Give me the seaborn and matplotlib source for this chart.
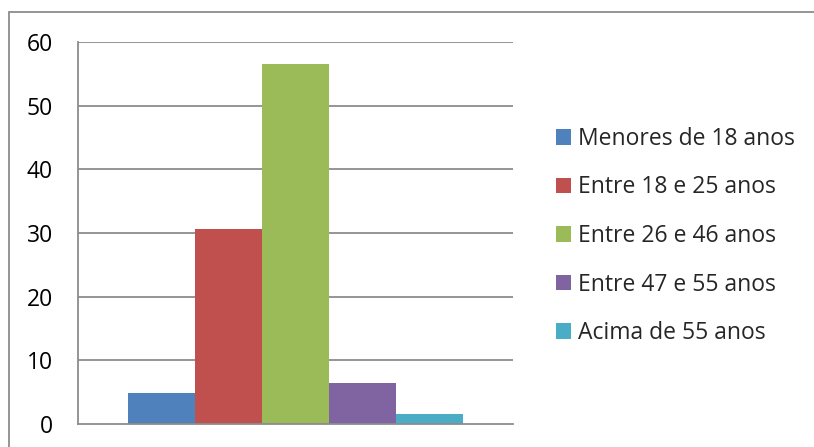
import matplotlib
matplotlib.use("Agg")
import matplotlib.pyplot as plt
from matplotlib.patches import Rectangle
import seaborn as sns
import pandas as pd

# Age groups and their shares
groups = ["Menores de 18 anos", "Entre 18 e 25 anos", "Entre 26 e 46 anos",
          "Entre 47 e 55 anos", "Acima de 55 anos"]
values = [4.9, 30.6, 56.5, 6.4, 1.6]
colors = ["#4f81bd", "#c0504d", "#9bbb59", "#8064a2", "#4bacc6"]
yticks = [0, 10, 20, 30, 40, 50, 60]

df = pd.DataFrame({"cat": ["Série"] * len(groups), "grupo": groups, "valor": values})

sns.set_theme(style="white")
plt.rcParams["font.family"] = ["Open Sans", "DejaVu Sans"]

FS = 16.5
W, H = 814, 447
fig = plt.figure(figsize=(W / 100, H / 100), dpi=100)
ax = fig.add_axes([78 / W, 1 - 424 / H, (513 - 78) / W, (424 - 42) / H])

sns.barplot(data=df, x="cat", y="valor", hue="grupo", hue_order=groups,
            palette=colors, saturation=1, width=0.77, linewidth=0,
            ax=ax, zorder=3)
ax.get_legend().remove()

ax.set_xlim(-0.5, 0.5)
ax.set_ylim(0, 60)
ax.set_yticks(yticks)
ax.set_yticklabels([str(t) for t in yticks], fontsize=FS, color="black")
ax.set_xticks([])
ax.set_xlabel("")
ax.set_ylabel("")
ax.tick_params(axis="y", length=0, pad=18)

grid_color = "#8c8c8c"
for t in yticks[1:]:
    ax.axhline(t, color=grid_color, lw=1.3, zorder=1)
for side in ("top", "right"):
    ax.spines[side].set_visible(False)
for side in ("left", "bottom"):
    ax.spines[side].set_color(grid_color)
    ax.spines[side].set_linewidth(1.3)
    ax.spines[side].set_zorder(4)

handles = [Rectangle((0, 0), 1, 1, facecolor=c, edgecolor="none") for c in colors]
fig.legend(handles, groups, loc="center left",
           bbox_to_anchor=(556 / W, 1 - 236 / H), frameon=False,
           fontsize=FS, handlelength=0.65, handleheight=0.65,
           handletextpad=0.3, labelspacing=1.07, borderpad=0, borderaxespad=0)

# Chart frame
fig.patches.append(Rectangle((9 / W, -0.2), 1.2, 1 - 12 / H + 0.2,
                             transform=fig.transFigure, fill=False,
                             edgecolor="#8c8c8c", lw=1.3, zorder=10))

fig.savefig("out.png", dpi=100, facecolor="white")
